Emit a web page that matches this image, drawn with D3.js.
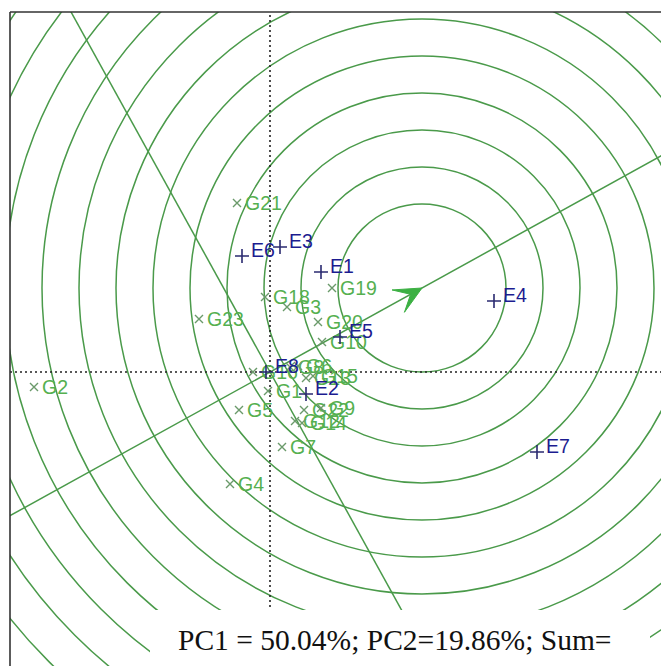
<!DOCTYPE html>
<html>
<head>
<meta charset="utf-8">
<script src="https://cdn.jsdelivr.net/npm/d3@7"></script>
<style>
  body { margin: 0; background: #fff; }
  svg { display: block; }
</style>
</head>
<body>
<div id="chart"></div>
<script>
// genotype scores (PC1, PC2)
var genoNames = ["G21","G18","G3","G19","G23","G20","G10","G2","G16","G8","G6","G13","G15","G1","G5","G22","G9","G12","G14","G7","G4"]
var genoPC1 = [-0.33,-0.05,0.17,0.62,-0.71,0.48,0.52,-2.36,-0.17,0.20,0.28,0.36,0.43,-0.02,-0.31,0.34,0.51,0.25,0.32,0.12,-0.40]
var genoPC2 = [1.69,0.75,0.65,0.84,0.53,0.50,0.30,-0.15,0.00,0.05,0.06,-0.06,-0.04,-0.19,-0.38,-0.38,-0.36,-0.49,-0.51,-0.75,-1.12]

// environment scores
var envNames = ["E6","E3","E1","E4","E5","E8","E2","E7"]
var envPC1 = [-0.28,0.10,0.51,2.24,0.70,-0.04,0.36,2.67]
var envPC2 = [1.16,1.25,1.00,0.71,0.35,0.00,-0.22,-0.80]

// average environment / ideal point and the rings round it
var aec = [1.52, 0.84]
var ringRadii = [0.84,1.21,1.58,1.95,2.32,2.69,3.06,3.43,3.80,4.17,4.54,4.91,5.28,5.65]

var W = 661, H = 666
var frame = {left: 10, top: 12}

var x = d3.scaleLinear().domain([-2.6, 3.95]).range([10, 665])
var y = d3.scaleLinear().domain([-3.0, 3.6]).range([672, 12])
var k = x(1) - x(0)  // pixels per unit, same on both axes

var svg = d3.select("#chart").append("svg")
    .attr("width", W)
    .attr("height", H)

svg.append("clipPath").attr("id", "plotclip")
  .append("rect")
    .attr("x", frame.left).attr("y", frame.top)
    .attr("width", W - frame.left + 10).attr("height", H - frame.top + 10)

var plot = svg.append("g").attr("clip-path", "url(#plotclip)")

var green = "#4a9a4a"

// concentric circles
plot.selectAll(".ring")
  .data(ringRadii)
  .enter()
  .append("circle")
    .attr("class", "ring")
    .attr("cx", x(aec[0]))
    .attr("cy", y(aec[1]))
    .attr("r", d => d * k)
    .style("fill", "none")
    .style("stroke", green)
    .style("stroke-width", 1.5)

// AEC abscissa and ordinate through the origin
var big = 20
plot.append("line")
    .attr("x1", x(-aec[0] * big)).attr("y1", y(-aec[1] * big))
    .attr("x2", x(aec[0] * big)).attr("y2", y(aec[1] * big))
    .style("stroke", green).style("stroke-width", 1.5)
plot.append("line")
    .attr("x1", x(-aec[1] * big)).attr("y1", y(aec[0] * big))
    .attr("x2", x(aec[1] * big)).attr("y2", y(-aec[0] * big))
    .style("stroke", green).style("stroke-width", 1.5)

// dotted axes
plot.append("line")
    .attr("x1", 0).attr("x2", W)
    .attr("y1", y(0)).attr("y2", y(0))
    .style("stroke", "#222").style("stroke-width", 1.6).style("stroke-dasharray", "2,3")
plot.append("line")
    .attr("x1", x(0)).attr("x2", x(0))
    .attr("y1", 0).attr("y2", H)
    .style("stroke", "#222").style("stroke-width", 1.6).style("stroke-dasharray", "2,3")

// arrow head at the average environment
var tx = x(aec[0]), ty = y(aec[1])
var back = Math.atan2(y(0) - ty, x(0) - tx)
function pt(a, r) { return [tx + r * Math.cos(a), ty + r * Math.sin(a)] }
var head = [[tx, ty], pt(back + 0.44, 30), pt(back, 13), pt(back - 0.44, 30)]
plot.append("path")
    .attr("d", d3.line()(head) + "Z")
    .style("fill", "#3cb043")
    .style("stroke", "#3cb043")

// genotypes
var geno = genoNames.map((n, i) => ({name: n, px: x(genoPC1[i]), py: y(genoPC2[i])}))
var gG = plot.selectAll(".geno").data(geno).enter().append("g")
    .attr("class", "geno")
    .attr("transform", d => "translate(" + d.px + "," + d.py + ")")
gG.append("path")
    .attr("d", "M-4,-4L4,4M-4,4L4,-4")
    .style("stroke", "#6a9a6a").style("stroke-width", 1.4)
gG.append("text")
    .attr("x", 8).attr("y", 7)
    .text(d => d.name)
    .style("font-family", "Liberation Sans, Arial, sans-serif")
    .style("font-size", "19.5px")
    .style("fill", "#55b050")

// environments
var env = envNames.map((n, i) => ({name: n, px: x(envPC1[i]), py: y(envPC2[i])}))
var eG = plot.selectAll(".env").data(env).enter().append("g")
    .attr("class", "env")
    .attr("transform", d => "translate(" + d.px + "," + d.py + ")")
eG.append("path")
    .attr("d", "M-7,0L7,0M0,-7L0,7")
    .style("stroke", "#2a2a70").style("stroke-width", 1.6)
eG.append("text")
    .attr("x", 9).attr("y", 1)
    .text(d => d.name)
    .style("font-family", "Liberation Sans, Arial, sans-serif")
    .style("font-size", "19.5px")
    .style("fill", "#1c1c90")

// frame
svg.append("line").attr("x1", frame.left).attr("x2", frame.left).attr("y1", frame.top).attr("y2", H)
    .style("stroke", "#333").style("stroke-width", 1.6)
svg.append("line").attr("x1", frame.left).attr("x2", W).attr("y1", frame.top).attr("y2", frame.top)
    .style("stroke", "#333").style("stroke-width", 1.6)

// caption box
svg.append("rect")
    .attr("x", 150).attr("y", 610)
    .attr("width", 500).attr("height", 60)
    .style("fill", "#fff")
svg.append("text")
    .attr("x", 178).attr("y", 650)
    .text("PC1 = 50.04%; PC2=19.86%; Sum=")
    .style("font-family", "Liberation Serif, Times New Roman, serif")
    .style("font-size", "29.5px")
    .style("fill", "#111")
</script>
</body>
</html>
